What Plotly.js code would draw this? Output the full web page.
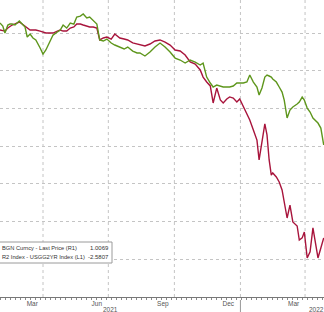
<!DOCTYPE html>
<html>
<head>
<meta charset="utf-8">
<script src="https://cdn.plot.ly/plotly-3.0.1.min.js"></script>
<style>html,body{margin:0;padding:0;background:#fff}#chart{width:324px;height:312px}</style>
</head>
<body>
<div id="chart"></div>
<script>
const dates = ['2021-01-31','2021-02-04','2021-02-07','2021-02-11','2021-02-14','2021-02-17','2021-02-21','2021-02-27','2021-03-03','2021-03-07',
'2021-03-10','2021-03-14','2021-03-18','2021-03-22','2021-03-28','2021-04-01','2021-04-05','2021-04-11','2021-04-15','2021-04-21',
'2021-04-25','2021-04-29','2021-05-04','2021-05-09','2021-05-14','2021-05-18','2021-05-23','2021-05-27','2021-06-01','2021-06-05',
'2021-06-10','2021-06-15','2021-06-19','2021-06-24','2021-06-29','2021-07-05','2021-07-10','2021-07-17','2021-07-23','2021-07-28',
'2021-08-04','2021-08-10','2021-08-14','2021-08-21','2021-08-28','2021-09-04','2021-09-11','2021-09-18','2021-09-25','2021-10-02',
'2021-10-09','2021-10-16','2021-10-23','2021-10-30','2021-11-06','2021-11-10','2021-11-15','2021-11-20','2021-11-24','2021-11-29',
'2021-12-04','2021-12-08','2021-12-13','2021-12-17','2021-12-22','2021-12-27','2021-12-31','2022-01-05','2022-01-10','2022-01-14',
'2022-01-19','2022-01-24','2022-01-27','2022-01-31','2022-02-04','2022-02-07','2022-02-10','2022-02-13','2022-02-15','2022-02-20',
'2022-02-24','2022-02-28','2022-03-03','2022-03-07','2022-03-11','2022-03-15','2022-03-21','2022-03-24','2022-03-28','2022-03-31',
'2022-04-04','2022-04-08','2022-04-12','2022-04-16','2022-04-19','2022-04-23','2022-04-27'];

// L1: R2 Index - USGG2YR Index
const spread = [-0.980,-0.987,-0.987,-0.967,-0.954,-0.947,-0.940,-0.927,-0.940,-0.954,
-0.967,-0.980,-0.980,-0.980,-0.987,-0.993,-1.000,-1.000,-1.000,-0.987,
-0.980,-0.987,-0.987,-0.967,-0.960,-0.940,-0.940,-0.947,-0.954,-0.960,
-0.960,-0.967,-1.046,-1.033,-1.027,-1.040,-1.007,-1.033,-1.040,-1.046,
-1.066,-1.073,-1.080,-1.086,-1.073,-1.053,-1.046,-1.060,-1.080,-1.113,
-1.119,-1.146,-1.192,-1.206,-1.245,-1.292,-1.325,-1.351,-1.464,-1.365,
-1.444,-1.464,-1.438,-1.424,-1.431,-1.458,-1.438,-1.491,-1.544,-1.577,
-1.643,-1.710,-1.842,-1.710,-1.603,-1.676,-1.842,-1.942,-1.928,-1.955,
-1.988,-2.041,-2.127,-2.227,-2.141,-2.253,-2.280,-2.373,-2.359,-2.320,
-2.492,-2.452,-2.293,-2.406,-2.492,-2.426,-2.359];

// R1: BGN Curncy - Last Price
const price = [1.2133,1.2093,1.2000,1.2106,1.2119,1.2119,1.2106,1.2159,1.2119,1.2080,
1.1947,1.1987,1.1934,1.1907,1.1801,1.1721,1.1775,1.1894,1.1973,1.2013,
1.2040,1.2106,1.2066,1.2133,1.2119,1.2212,1.2225,1.2252,1.2199,1.2212,
1.2172,1.2119,1.1907,1.1894,1.1920,1.1867,1.1841,1.1814,1.1788,1.1814,
1.1761,1.1735,1.1735,1.1695,1.1748,1.1814,1.1867,1.1814,1.1748,1.1668,
1.1642,1.1602,1.1642,1.1615,1.1576,1.1602,1.1416,1.1337,1.1284,1.1310,
1.1297,1.1284,1.1284,1.1284,1.1297,1.1337,1.1337,1.1337,1.1350,1.1443,
1.1350,1.1284,1.1178,1.1271,1.1416,1.1443,1.1430,1.1416,1.1390,1.1350,
1.1284,1.1217,1.1111,1.0873,1.0979,1.1019,1.1058,1.1085,1.1151,1.1111,
1.1005,1.0952,1.0873,1.0833,1.0806,1.0740,1.0515];

const monthTickVals = ['2021-03-17','2021-06-15','2021-09-15','2021-12-15','2022-03-16'];
const monthTickText = ['Mar','Jun','Sep','Dec','Mar'];
const gridDates = ['2021-04-01','2021-07-01','2021-10-01','2022-01-01','2022-04-01'];
const spreadGrid = [-1.0,-1.25,-1.5,-1.75,-2.0,-2.25,-2.5];
const legendNames = ['BGN Curncy - Last Price (R1)', 'R2 Index - USGG2YR Index (L1)'];
const legendValues = ['1.0069', '-2.5807'];
const years = ['2021', '2022'];

const W = 324, PH = 297;
const px = v => v / W;
const py = v => 1 - v / PH;

const font = "Liberation Sans, Arial, sans-serif";
const legFont = {size: 5.7, color: '#333', family: font};
const valFont = {size: 6.0, color: '#333', family: font};

const traces = [
  {x: dates, y: price, type: 'scatter', mode: 'lines', yaxis: 'y2',
   line: {color: '#5e961c', width: 1.4}, hoverinfo: 'skip'},
  {x: dates, y: spread, type: 'scatter', mode: 'lines', yaxis: 'y',
   line: {color: '#a8143c', width: 1.4}, hoverinfo: 'skip'}
];

const shapes = gridDates.map(d => ({type: 'line', xref: 'x', yref: 'paper', x0: d, x1: d, y0: 0, y1: 1,
  line: {color: '#c4c4c4', width: 1, dash: 'dot'}, layer: 'below'}));
shapes.push({type: 'line', xref: 'x', yref: 'paper', x0: '2022-01-01', x1: '2022-01-01', y0: py(300), y1: py(313),
  line: {color: '#999', width: 1}});
shapes.push({type: 'rect', xref: 'paper', yref: 'paper', x0: px(-2), x1: px(112), y0: py(263), y1: py(242),
  fillcolor: '#ffffff', line: {color: '#9a9a9a', width: 1}});

const annotations = [
  {text: legendNames[0], xref: 'paper', yref: 'paper', x: px(0), y: py(248), xanchor: 'left', yanchor: 'middle', showarrow: false, font: legFont},
  {text: legendNames[1], xref: 'paper', yref: 'paper', x: px(0), y: py(256.5), xanchor: 'left', yanchor: 'middle', showarrow: false, font: legFont},
  {text: legendValues[0], xref: 'paper', yref: 'paper', x: px(110.5), y: py(248), xanchor: 'right', yanchor: 'middle', showarrow: false, font: valFont},
  {text: legendValues[1], xref: 'paper', yref: 'paper', x: px(110.5), y: py(256.5), xanchor: 'right', yanchor: 'middle', showarrow: false, font: valFont},
  {text: years[0], xref: 'paper', yref: 'paper', x: px(110), y: py(309), xanchor: 'center', yanchor: 'middle', showarrow: false, font: {size: 6.5, color: '#555', family: font}},
  {text: years[1], xref: 'paper', yref: 'paper', x: px(316), y: py(309), xanchor: 'center', yanchor: 'middle', showarrow: false, font: {size: 6.5, color: '#555', family: font}}
];

const layout = {
  width: 324, height: 312,
  margin: {l: 0, r: 0, t: 0, b: 15, pad: 0},
  paper_bgcolor: '#ffffff', plot_bgcolor: '#ffffff',
  showlegend: false,
  xaxis: {type: 'date', range: ['2021-01-31 02:24', '2022-04-27 09:36'],
    tickmode: 'array', tickvals: monthTickVals, ticktext: monthTickText,
    ticks: '', showgrid: false, zeroline: false,
    showline: true, linecolor: '#777', linewidth: 1,
    tickfont: {size: 6.5, color: '#555', family: font},
    minor: {dtick: 7 * 86400000, tick0: '2021-02-01', ticks: 'outside', ticklen: 2, tickcolor: '#888', showgrid: false},
    fixedrange: true},
  yaxis: {range: [-2.751, -0.781], tickmode: 'array', tickvals: spreadGrid,
    showticklabels: false, ticks: '', zeroline: false,
    showgrid: true, gridcolor: '#c4c4c4', griddash: 'dot', gridwidth: 1, fixedrange: true},
  yaxis2: {range: [0.8499, 1.2438], overlaying: 'y', side: 'right',
    showticklabels: false, ticks: '', showgrid: false, zeroline: false, fixedrange: true},
  shapes: shapes,
  annotations: annotations
};

Plotly.newPlot('chart', traces, layout, {displayModeBar: false, staticPlot: true});
</script>
</body>
</html>
